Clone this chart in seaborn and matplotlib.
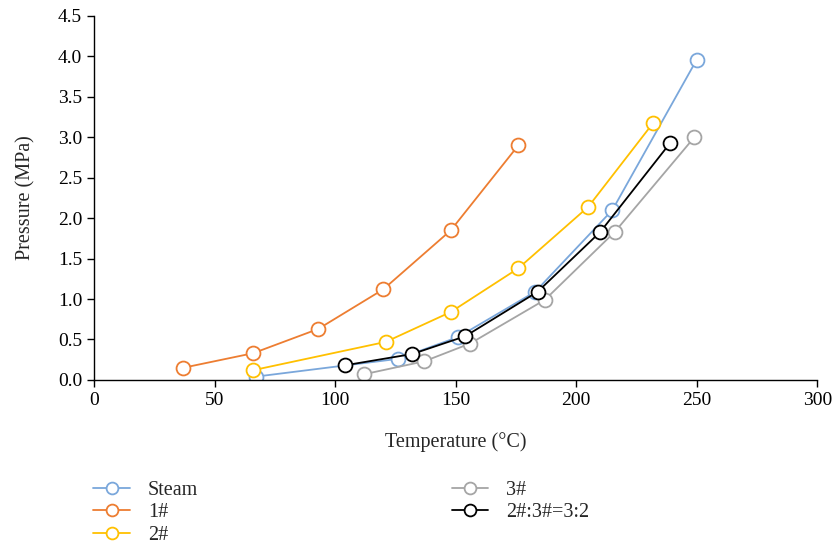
import pandas as pd
import seaborn as sns
import matplotlib.pyplot as plt

# values
steam_t = [67, 126, 151, 183, 215, 250]
steam_p = [0.04, 0.26, 0.53, 1.09, 2.10, 3.96]
s1_t = [37, 66, 93, 120, 148, 176]
s1_p = [0.15, 0.33, 0.63, 1.12, 1.85, 2.90]
s2_t = [66, 121, 148, 176, 205, 232]
s2_p = [0.12, 0.47, 0.84, 1.38, 2.14, 3.18]
s3_t = [112, 137, 156, 187, 216, 249]
s3_p = [0.07, 0.23, 0.45, 0.99, 1.83, 3.00]
mix_t = [104, 132, 154, 184, 210, 239]
mix_p = [0.18, 0.32, 0.54, 1.09, 1.83, 2.93]

names = ["Steam", "1#", "2#", "3#", "2#:3#=3:2"]
colors = ["#7AA7DB", "#ED7D31", "#FFC000", "#A5A5A5", "#000000"]

frames = []
for name, t, p in zip(names, [steam_t, s1_t, s2_t, s3_t, mix_t],
                      [steam_p, s1_p, s2_p, s3_p, mix_p]):
    frames.append(pd.DataFrame({"T": t, "P": p, "series": name}))
df = pd.concat(frames, ignore_index=True)

sns.set_style("ticks")
plt.rcParams['font.family'] = ['Liberation Serif', 'DejaVu Serif']

fig = plt.figure(figsize=(8.34, 5.49), dpi=100)
ax = fig.add_axes([0.1127, 0.308, 0.8673, 0.663])

for name, c in zip(names, colors):
    sns.lineplot(data=df[df.series == name], x="T", y="P", ax=ax, color=c,
                 marker="o", markersize=10, markerfacecolor="white",
                 markeredgecolor=c, markeredgewidth=1.3, linewidth=1.3,
                 label=name)

ax.set_xlim(0, 300)
ax.set_ylim(0, 4.5)
ax.set_xticks(range(0, 301, 50))
ax.set_yticks([i * 0.5 for i in range(10)])
ax.set_yticklabels([f"{i * 0.5:.1f}" for i in range(10)])
ax.tick_params(labelsize=14, direction="out", length=5, width=1, colors="black")
for s in ["left", "bottom"]:
    ax.spines[s].set_color("black")
    ax.spines[s].set_linewidth(1)
sns.despine(ax=ax)
ax.set_xlabel("Temperature (°C)", fontsize=14.5, labelpad=17)
ax.set_ylabel("Pressure (MPa)", fontsize=14.5, labelpad=16)

ax.legend(loc="upper left", bbox_to_anchor=(-0.023, -0.232), ncol=2, frameon=False,
          fontsize=14.5, handlelength=1.8, handletextpad=0.9, markerscale=0.85,
          columnspacing=12.6, labelspacing=0.18, borderpad=0.3)

fig.savefig("out.png", dpi=100)
